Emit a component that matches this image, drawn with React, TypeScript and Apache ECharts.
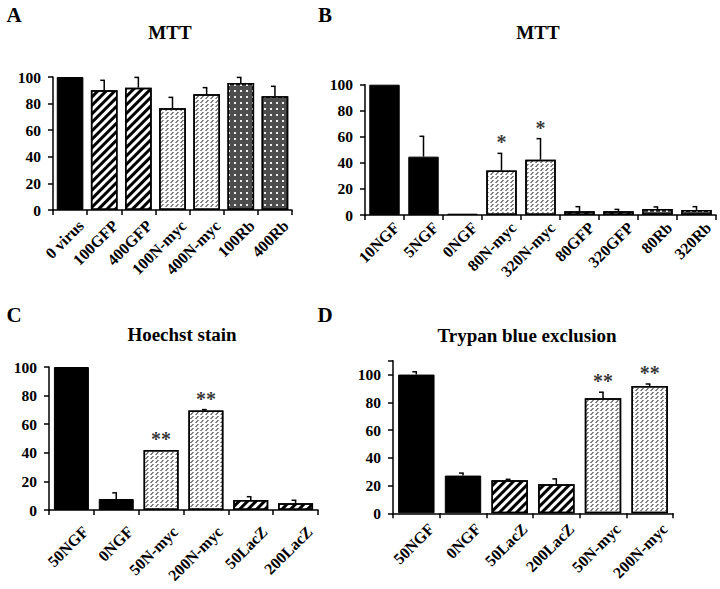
import React, { useEffect, useRef } from "react";
import * as echarts from "echarts";

// Panel A – MTT
const catsA = ["0 virus", "100GFP", "400GFP", "100N-myc", "400N-myc", "100Rb", "400Rb"];
const valsA = [100, 90, 92, 76.5, 87, 95.5, 85.5];
const errA = [100, 97.5, 99.7, 84.7, 92, 99.7, 93];
const patA = ["solid", "stripe", "stripe", "dash", "dash", "dots", "dots"];
const starsA = ["", "", "", "", "", "", ""];

// Panel B – MTT
const catsB = ["10NGF", "5NGF", "0NGF", "80N-myc", "320N-myc", "80GFP", "320GFP", "80Rb", "320Rb"];
const valsB = [100, 44.8, 1, 34.2, 42.4, 2.8, 2.8, 4.6, 3.9];
const errB = [100, 60.4, 1, 47.3, 58.6, 6.4, 4.3, 6.2, 6.4];
const patB = ["solid", "solid", "solid", "dash", "dash", "stripe", "stripe", "dots", "dots"];
const starsB = ["", "", "", "*", "*", "", "", "", ""];

// Panel C – Hoechst stain
const catsC = ["50NGF", "0NGF", "50N-myc", "200N-myc", "50LacZ", "200LacZ"];
const valsC = [100, 7.7, 42, 69.5, 7, 4.7];
const errC = [100, 12, 42, 70.2, 9.3, 6.8];
const patC = ["solid", "solid", "dash", "dash", "stripe", "stripe"];
const starsC = ["", "", "**", "**", "", ""];

// Panel D – Trypan blue exclusion
const catsD = ["50NGF", "0NGF", "50LacZ", "200LacZ", "50N-myc", "200N-myc"];
const valsD = [100, 27.2, 23.9, 21, 83, 91.7];
const errD = [102, 29, 24.5, 24.8, 87.3, 93.2];
const patD = ["solid", "solid", "stripe", "stripe", "dash", "dash"];
const starsD = ["", "", "", "", "**", "**"];

const yTicks = [0, 20, 40, 60, 80, 100];

const FONT = "'Liberation Serif', 'Times New Roman', serif";

function styleFor(p: string) {
  if (p === "solid") return { color: "#000", borderColor: "#000", borderWidth: 1 };
  if (p === "stripe")
    return {
      color: "#fff",
      borderColor: "#000",
      borderWidth: 1.5,
      decal: {
        symbol: "rect",
        symbolSize: 1,
        dashArrayX: [1, 0],
        dashArrayY: [3, 3],
        rotation: -Math.PI / 4,
        color: "#000",
      },
    };
  if (p === "dash")
    return {
      color: "#fff",
      borderColor: "#000",
      borderWidth: 1.5,
      decal: {
        symbol: "path://M0,10 L3,10 L10,0 L7,0 Z",
        symbolSize: 1,
        symbolKeepAspect: false,
        dashArrayX: [3.5, 0.6],
        dashArrayY: [2.6, 0.9],
        color: "#333",
      },
    };
  return {
    color: "#4d4d4d",
    borderColor: "#000",
    borderWidth: 1.5,
    decal: {
      symbol: "rect",
      symbolSize: 1,
      dashArrayX: [1.3, 3.4],
      dashArrayY: [1.3, 3.4],
      color: "#f0f0f0",
    },
  };
}

type Panel = {
  cats: string[];
  vals: number[];
  err: number[];
  pat: string[];
  stars: string[];
  grid: any;
  max: number;
  lab: number[];
};

const panels: Panel[] = [
  { cats: catsA, vals: valsA, err: errA, pat: patA, stars: starsA, grid: { left: 53, right: 428, top: 77, bottom: 379 }, max: 100, lab: [11, 13] },
  { cats: catsB, vals: valsB, err: errB, pat: patB, stars: starsB, grid: { left: 365, right: 4, top: 84.7, bottom: 374 }, max: 100, lab: [12, 10] },
  { cats: catsC, vals: valsC, err: errC, pat: patC, stars: starsC, grid: { left: 49, right: 402, top: 367, bottom: 79 }, max: 100, lab: [14, 19] },
  { cats: catsD, vals: valsD, err: errD, pat: patD, stars: starsD, grid: { left: 393, right: 47, top: 360.7, bottom: 75.7 }, max: 110, lab: [15, 13] },
];

function text(t: string, x: number, y: number, size: number) {
  return {
    type: "text",
    x,
    y,
    style: {
      text: t,
      fontSize: size,
      fontFamily: FONT,
      fontWeight: "bold",
      fill: "#000",
      align: "center",
      verticalAlign: "middle",
      textAlign: "center",
      textVerticalAlign: "middle",
    },
  };
}

function buildOption() {
  const grid: any[] = [];
  const xAxis: any[] = [];
  const yAxis: any[] = [];
  const series: any[] = [];
  panels.forEach((p, i) => {
    grid.push({ ...p.grid, containLabel: false });
    xAxis.push({
      type: "category",
      gridIndex: i,
      data: p.cats,
      boundaryGap: true,
      axisLine: { show: true, lineStyle: { color: "#000", width: 1.5 } },
      axisTick: { show: true, interval: 0, length: 5, lineStyle: { color: "#000", width: 1.5 } },
      axisLabel: { show: false },
    });
    yAxis.push({
      type: "value",
      gridIndex: i,
      min: 0,
      max: p.max,
      interval: 20,
      axisLine: { show: true, lineStyle: { color: "#000", width: 1.5 } },
      axisTick: { show: true, length: 5, lineStyle: { color: "#000", width: 1.5 } },
      splitLine: { show: false },
      axisLabel: {
        margin: 12,
        fontFamily: FONT,
        fontWeight: "bold",
        fontSize: 15.5,
        color: "#000",
        formatter: (v: number) => (yTicks.indexOf(v) >= 0 ? String(v) : ""),
      },
    });
    series.push({
      type: "bar",
      xAxisIndex: i,
      yAxisIndex: i,
      barCategoryGap: "22%",
      data: p.vals.map((v, k) => ({ value: v, itemStyle: styleFor(p.pat[k]) })),
    });
    series.push({
      type: "custom",
      xAxisIndex: i,
      yAxisIndex: i,
      data: p.vals.map((v, k) => [k, v, p.err[k]]),
      renderItem: (params: any, api: any) => {
        const k = api.value(0);
        const lo = api.value(1);
        const hi = api.value(2);
        if (!(hi > lo + 0.3)) return { type: "group", children: [] };
        const a = api.coord([k, lo]);
        const b = api.coord([k, hi]);
        return {
          type: "group",
          children: [
            { type: "line", shape: { x1: a[0], y1: a[1], x2: b[0], y2: b[1] }, style: { stroke: "#000", lineWidth: 1.5 } },
            { type: "line", shape: { x1: b[0] - 4, y1: b[1], x2: b[0] + 0.7, y2: b[1] }, style: { stroke: "#000", lineWidth: 1.5 } },
          ],
        };
      },
      z: 5,
    });
    // category labels, rotated, anchored through the axis scale
    series.push({
      type: "custom",
      xAxisIndex: i,
      yAxisIndex: i,
      clip: false,
      data: p.cats.map((c, k) => [k, 0]),
      renderItem: (params: any, api: any) => {
        const k = api.value(0);
        const pt = api.coord([k, 0]);
        return {
          type: "text",
          x: pt[0] + p.lab[0],
          y: pt[1] + p.lab[1],
          rotation: Math.PI / 4,
          style: {
            text: p.cats[k],
            fontSize: 16,
            fontFamily: FONT,
            fontWeight: "bold",
            fill: "#000",
            align: "right",
            verticalAlign: "middle",
          },
        };
      },
      z: 6,
    });
    series.push({
      type: "scatter",
      xAxisIndex: i,
      yAxisIndex: i,
      symbolSize: 0,
      data: p.err.map((e, k) => [k, e]),
      label: {
        show: true,
        position: "top",
        distance: 1,
        fontFamily: FONT,
        fontWeight: "bold",
        fontSize: 20,
        color: "#000",
        formatter: (d: any) => p.stars[d.dataIndex] || "",
      },
      z: 6,
    });
  });

  const graphic = [
    text("A", 14, 15, 21),
    text("B", 325, 15, 21),
    text("C", 14, 315, 21),
    text("D", 325, 315, 21),
    text("MTT", 170, 32, 19),
    text("MTT", 538, 32, 19),
    text("Hoechst stain", 182, 334, 19),
    text("Trypan blue exclusion", 527, 335, 19),
  ];

  return {
    animation: false,
    backgroundColor: "#fff",
    textStyle: { fontFamily: FONT },
    grid,
    xAxis,
    yAxis,
    series,
    graphic,
  };
}

export default function App() {
  const ref = useRef<HTMLDivElement>(null);
  useEffect(() => {
    if (!ref.current) return;
    const chart = echarts.init(ref.current, null, { renderer: "svg" });
    chart.setOption(buildOption() as any);
    return () => chart.dispose();
  }, []);
  return (
    <div
      ref={ref}
      style={{ position: "fixed", left: 0, top: 0, width: 720, height: 589, background: "#fff" }}
    />
  );
}
